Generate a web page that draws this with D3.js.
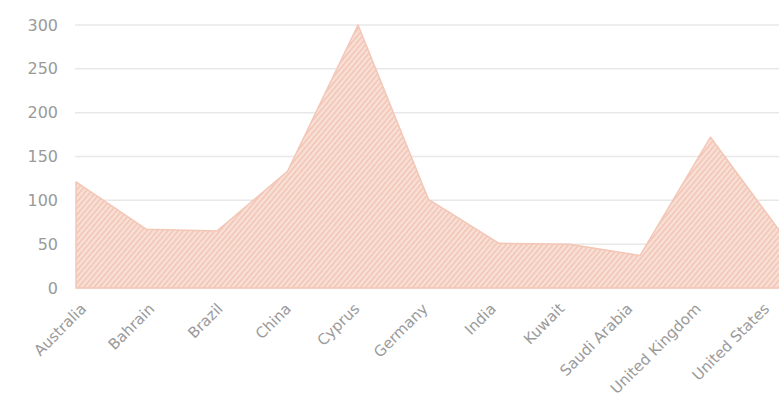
<!DOCTYPE html>
<html>
<head>
<meta charset="utf-8">
<script src="https://cdn.jsdelivr.net/npm/d3@7"></script>
<style>
  body { margin: 0; background: #fff; }
  svg { display: block; }
  text { font-family: "DejaVu Sans", sans-serif; }
</style>
</head>
<body>
<svg id="drawing_region"></svg>
<script>
const countries = ['Australia', 'Bahrain', 'Brazil', 'China', 'Cyprus', 'Germany',
                   'India', 'Kuwait', 'Saudi Arabia', 'United Kingdom', 'United States'];
const values = [121, 67, 65, 133, 300, 101, 51, 50, 37, 172, 63];
const yticks = [0, 50, 100, 150, 200, 250, 300];

const data = countries.map((c, i) => ({label: c, value: values[i]}));

const width = 779, height = 398;
const svg = d3.select('#drawing_region')
    .attr('width', width)
    .attr('height', height);

const xscale = d3.scalePoint()
    .domain(countries)
    .range([76, 781]);

// the tick labels sit on a slightly narrower spread than the points
const label_scale = d3.scalePoint()
    .domain(countries)
    .range([83, 766]);

const yscale = d3.scaleLinear()
    .domain([0, 300])
    .range([288, 25]);

// hatch pattern for the area
const defs = svg.append('defs');
const pat = defs.append('pattern')
    .attr('id', 'hatch')
    .attr('patternUnits', 'userSpaceOnUse')
    .attr('width', 4)
    .attr('height', 4)
    .attr('patternTransform', 'rotate(-50)');
pat.append('rect')
    .attr('width', 4).attr('height', 4)
    .attr('fill', '#f9e0d7');
pat.append('line')
    .attr('x1', 0).attr('y1', 0.8)
    .attr('x2', 4).attr('y2', 0.8)
    .attr('stroke', '#f1c4b4')
    .attr('stroke-width', 1.6);

// gridlines
svg.append('g')
    .selectAll('line')
    .data(yticks)
    .join('line')
    .attr('x1', 75)
    .attr('x2', width)
    .attr('y1', d => yscale(d))
    .attr('y2', d => yscale(d))
    .attr('stroke', '#e8e8e8')
    .attr('stroke-width', 1.5);

// y axis
const yaxis_group = svg.append('g')
    .attr('transform', 'translate(58, 0)')
    .call(d3.axisLeft(yscale).tickValues(yticks).tickSize(0).tickPadding(0));
yaxis_group.select('.domain').remove();
yaxis_group.selectAll('text')
    .attr('fill', '#9a9a9a')
    .style('font-family', '"DejaVu Sans", sans-serif')
    .style('font-size', '16px');

// area
const area = d3.area()
    .x(d => xscale(d.label))
    .y0(yscale(0))
    .y1(d => yscale(d.value));

svg.append('path')
    .datum(data)
    .attr('d', area)
    .attr('fill', 'url(#hatch)')
    .attr('stroke', '#f3c6b6')
    .attr('stroke-width', 1.5)
    .attr('stroke-linejoin', 'round');

// x axis labels
const xaxis_group = svg.append('g')
    .attr('transform', 'translate(0, 306)')
    .call(d3.axisBottom(label_scale).tickSize(0).tickPadding(0));
xaxis_group.select('.domain').remove();
xaxis_group.selectAll('text')
    .attr('fill', '#9a9a9a')
    .style('font-family', '"DejaVu Sans", sans-serif')
    .style('font-size', '15px')
    .attr('text-anchor', 'end')
    .attr('dy', '0.35em')
    .attr('y', 0)
    .attr('transform', 'rotate(-45)');
</script>
</body>
</html>
